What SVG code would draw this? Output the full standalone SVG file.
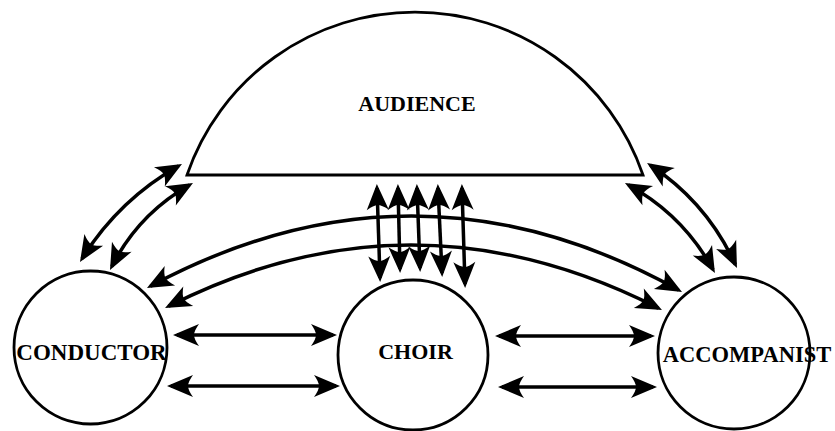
<svg xmlns="http://www.w3.org/2000/svg" width="835" height="431" viewBox="0 0 835 431">
<style>
.shape{fill:#fff;stroke:#000;stroke-width:2.8}
.lbl{font-family:"Liberation Serif","Times New Roman",serif;font-weight:bold;fill:#000;text-anchor:middle}
.c{fill:none;stroke:#000;stroke-width:3.5;marker-start:url(#ah);marker-end:url(#ah)}
</style>
<defs>
<marker id="ah" markerUnits="userSpaceOnUse" orient="auto-start-reverse" refX="-4" refY="0" markerWidth="30" markerHeight="30" overflow="visible">
<path d="M0,0 L-26,-11 Q-21,-4 -21,0 Q-21,4 -26,11 Z" fill="#000"/>
</marker>
</defs>
<rect width="835" height="431" fill="#fff"/>
<g id="audience">
<path class="shape" d="M187,175 A241,241 0 0 1 643,175 Z"/>
<text class="lbl" x="417" y="111" font-size="22">AUDIENCE</text>
</g>
<g id="conductor">
<circle class="shape" cx="90.5" cy="347.5" r="76.5"/>
<text class="lbl" x="91.5" y="360" font-size="23">CONDUCTOR</text>
</g>
<g id="choir">
<circle class="shape" cx="413" cy="355" r="75"/>
<text class="lbl" x="415.5" y="359" font-size="22">CHOIR</text>
</g>
<g id="accompanist">
<circle class="shape" cx="734" cy="353" r="76"/>
<text class="lbl" x="747" y="362" font-size="22.5">ACCOMPANIST</text>
</g>
<g id="connectors">
<path class="c" d="M82.1,258.6 Q118.6,200 178.5,166"/>
<path class="c" d="M111.8,266.4 Q138.5,214 189.5,185"/>
<path class="c" d="M650.4,165.2 Q707,202.5 735.3,264.4"/>
<path class="c" d="M628.5,185 Q683,215 713,269.5"/>
<path class="c" d="M150.5,286.1 Q415.5,144 678.5,290"/>
<path class="c" d="M168.6,306.2 Q412.5,183 658.4,308.2"/>
<path class="c" d="M377,188 L380,278"/>
<path class="c" d="M398,188 L400,269"/>
<path class="c" d="M417,188 L420,268"/>
<path class="c" d="M438,188 L442,273"/>
<path class="c" d="M462,188 L465,284"/>
<path class="c" d="M177,335 L333,335"/>
<path class="c" d="M171,386 L336,386"/>
<path class="c" d="M499,336 L651,336"/>
<path class="c" d="M502,387 L653,387"/>
</g>
</svg>
